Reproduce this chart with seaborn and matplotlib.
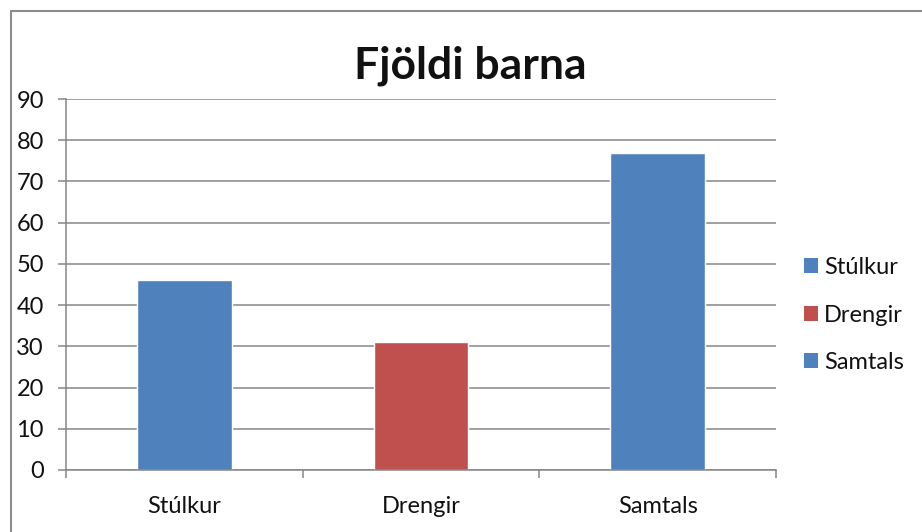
import matplotlib
matplotlib.use("Agg")
import matplotlib.pyplot as plt
import seaborn as sns
import pandas as pd
from matplotlib.patches import Patch
from matplotlib.lines import Line2D

# chart data
categories = ["Stúlkur", "Drengir", "Samtals"]
values = [46, 31, 77]
colors = ["#4F81BD", "#C0504D", "#4F81BD"]
y_ticks = [0, 10, 20, 30, 40, 50, 60, 70, 80, 90]

df = pd.DataFrame({"flokkur": categories, "fjoldi": values})

sns.set_style("white")
plt.rcParams["font.family"] = ["Lato", "DejaVu Sans"]

fig = plt.figure(figsize=(9.22, 5.32), dpi=100)
ax = fig.add_axes([66 / 922, 1 - 470 / 532, 710 / 922, 371 / 532])

sns.barplot(data=df, x="flokkur", y="fjoldi", hue="flokkur",
            palette=colors, width=0.4, legend=False, ax=ax, saturation=1)

grid_col = "#868686"
ax.set_ylim(0, 90)
ax.set_xlim(-0.5, 2.5)
ax.set_yticks(y_ticks)
ax.yaxis.grid(True, color=grid_col, linewidth=1.1)
ax.set_axisbelow(True)
ax.set_xlabel("")
ax.set_ylabel("")

for s in ["top", "right"]:
    ax.spines[s].set_visible(False)
for s in ["left", "bottom"]:
    ax.spines[s].set_color(grid_col)
    ax.spines[s].set_linewidth(1.1)

ax.tick_params(axis="y", length=6, color=grid_col, width=1.1, pad=10,
               labelsize=17, left=True, labelcolor="#111111")
ax.tick_params(axis="x", which="major", length=0, pad=19, labelsize=17,
               labelcolor="#111111")
ax.set_xticks([-0.5, 0.5, 1.5, 2.5], minor=True)
ax.tick_params(axis="x", which="minor", length=6, color=grid_col,
               width=1.1, bottom=True)

fig.text(470 / 922, 1 - 66 / 532, "Fjöldi barna", ha="center", va="center",
         fontsize=32, fontweight="bold", color="#111111")

handles = [Patch(facecolor=c, edgecolor="none", label=l)
           for c, l in zip(colors, categories)]
fig.legend(handles=handles, loc="center left",
           bbox_to_anchor=(792 / 922, 1 - 315 / 532), frameon=False,
           fontsize=17, labelcolor="#111111", handlelength=0.62,
           handleheight=0.62, handletextpad=0.25, labelspacing=1.12,
           borderpad=0)

# outer chart border (left and top visible)
fig.add_artist(Line2D([10.5 / 922, 10.5 / 922], [0, 1 - 10.5 / 532],
                      color="#8c8c8c", linewidth=1.5, transform=fig.transFigure))
fig.add_artist(Line2D([10.5 / 922, 1], [1 - 10.5 / 532, 1 - 10.5 / 532],
                      color="#8c8c8c", linewidth=1.5, transform=fig.transFigure))

fig.savefig("out.png", dpi=100)
